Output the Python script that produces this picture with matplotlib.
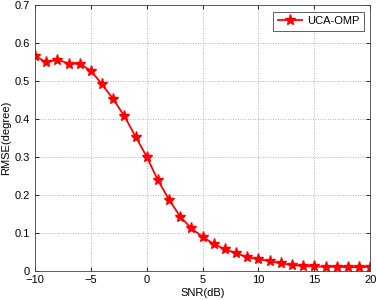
import matplotlib
matplotlib.use("Agg")
import matplotlib.pyplot as plt

snr = list(range(-10, 21))
rmse = [0.566, 0.549, 0.556, 0.546, 0.545, 0.527, 0.491, 0.452, 0.407, 0.353,
        0.300, 0.238, 0.187, 0.142, 0.111, 0.089, 0.070, 0.056, 0.046, 0.035,
        0.030, 0.025, 0.019, 0.015, 0.012, 0.011, 0.010, 0.010, 0.009, 0.009, 0.010]
series_label = "UCA-OMP"
xticks = [-10, -5, 0, 5, 10, 15, 20]
yticks = [0, 0.1, 0.2, 0.3, 0.4, 0.5, 0.6, 0.7]

plt.rcParams['font.family'] = ['Liberation Sans', 'DejaVu Sans']
fig = plt.figure(figsize=(3.77, 3.0), dpi=100)
ax = fig.add_axes([0.093, 0.098, 0.889, 0.885])
ax.plot(snr, rmse, color='red', linewidth=1.3, marker='*', markersize=8,
        markerfacecolor='red', markeredgecolor='red', label=series_label)
ax.set_xlim(-10, 20)
ax.set_ylim(0, 0.7)
ax.set_xticks(xticks)
ax.set_yticks(yticks)
ax.set_yticklabels([f"{v:g}" for v in yticks])
ax.grid(True, linestyle=(0, (1, 2)), color='#999999', linewidth=0.6)
ax.tick_params(direction='in', labelsize=8, length=3, top=True, right=True, width=0.6)
for s in ax.spines.values():
    s.set_linewidth(0.6)
    s.set_color('#444444')
ax.set_xlabel("SNR(dB)", fontsize=8, labelpad=2)
ax.set_ylabel("RMSE(degree)", fontsize=8, labelpad=3)
leg = ax.legend(loc='upper right', fontsize=8, fancybox=False, edgecolor='#444444',
                framealpha=1, handlelength=2.2, handletextpad=0.4, borderpad=0.4,
                borderaxespad=0.6)
leg.get_frame().set_linewidth(0.6)
fig.savefig("out.png", dpi=100)
